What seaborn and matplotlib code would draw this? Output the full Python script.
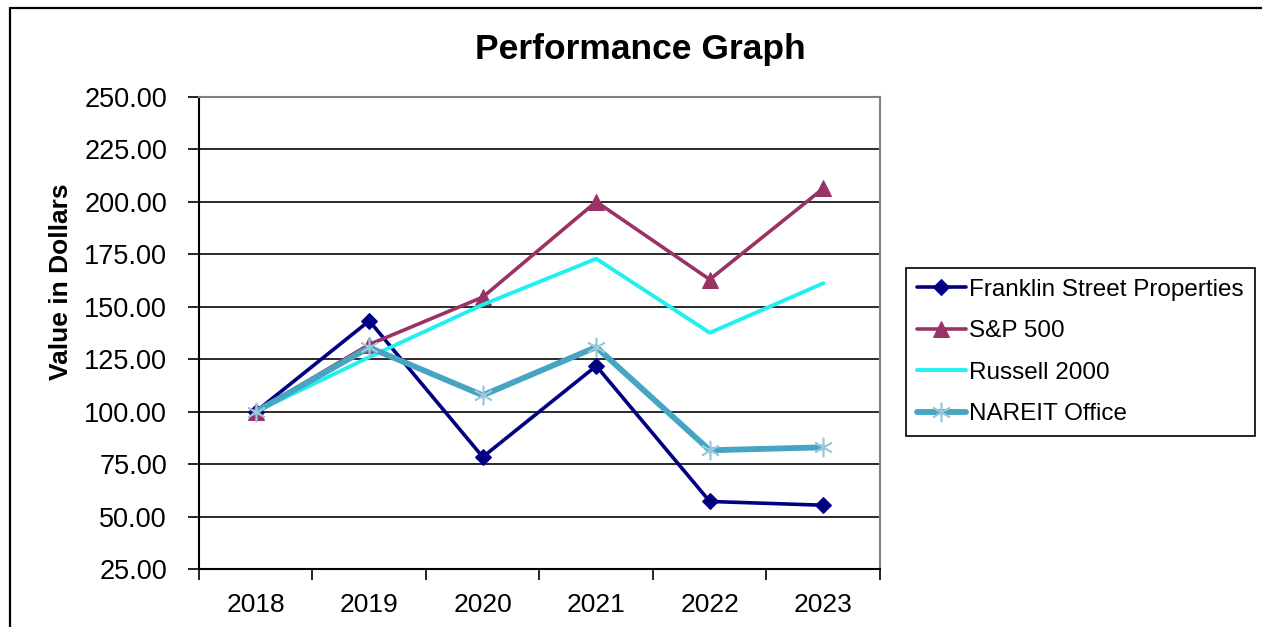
import matplotlib
matplotlib.use("Agg")
import matplotlib.pyplot as plt
from matplotlib.lines import Line2D
import numpy as np
import pandas as pd
import seaborn as sns

years = [2018, 2019, 2020, 2021, 2022, 2023]
franklin = [100.0, 143.3, 78.4, 121.8, 57.2, 55.4]
sp500 = [100.0, 132.0, 154.6, 200.1, 163.0, 206.4]
russell = [100.0, 126.0, 151.0, 172.9, 137.6, 161.2]
nareit = [100.0, 130.6, 107.8, 130.8, 81.6, 83.0]
series_names = ["Franklin Street Properties", "S&P 500", "Russell 2000", "NAREIT Office"]
y_ticks = [25, 50, 75, 100, 125, 150, 175, 200, 225, 250]

sns.set_theme(style="white")
plt.rcParams["font.family"] = ["Liberation Sans", "DejaVu Sans"]
plt.rcParams["text.color"] = "#000000"
plt.rcParams["xtick.color"] = "#000000"
plt.rcParams["ytick.color"] = "#000000"
plt.rcParams["xtick.labelcolor"] = "#000000"
plt.rcParams["ytick.labelcolor"] = "#000000"

W, H = 1262, 627
fig = plt.figure(figsize=(W / 100, H / 100), dpi=100)
fig.patch.set_facecolor("white")
ax = fig.add_axes([199 / W, 1 - 569 / H, (880 - 199) / W, (569 - 97) / H])
ax.set_facecolor("white")

ax.set_axisbelow(True)
ax.yaxis.grid(True, color="#1a1a1a", linewidth=1.3)
ax.xaxis.grid(False)

styles = [
    dict(color="#000080", linewidth=2.6, marker="D", markersize=8.5,
         markerfacecolor="#000080", markeredgecolor="#000080"),
    dict(color="#993366", linewidth=2.6, marker="^", markersize=11,
         markerfacecolor="#993366", markeredgecolor="#993366"),
    dict(color="#22F0F0", linewidth=2.8),
    dict(color="#45A5C2", linewidth=4.2, marker=(6, 2, 0), markersize=14,
         markeredgecolor="#9CC8DC", markeredgewidth=1.2),
]
values = [franklin, sp500, russell, nareit]
for name, vals, st in zip(series_names, values, styles):
    df = pd.DataFrame({"Year": years, "Value": vals})
    sns.lineplot(data=df, x="Year", y="Value", ax=ax, label=name, **st)

ax.set_xlim(years[0] - 0.5, years[-1] + 0.5)
ax.set_ylim(25, 250)
ax.set_yticks(y_ticks)
ax.set_yticklabels([f"{v:.2f}" for v in y_ticks])
ax.set_xticks(years)
ax.set_xticklabels([str(y) for y in years])
ax.set_xticks([y - 0.5 for y in years] + [years[-1] + 0.5], minor=True)
ax.tick_params(axis="x", which="major", length=0, pad=17, labelsize=19,
               labelcolor="#000000")
ax.tick_params(axis="x", which="minor", length=8, width=1.2, direction="out",
               color="#000000", bottom=True)
ax.tick_params(axis="y", which="major", length=8, width=1.2, direction="out",
               pad=15, labelsize=19.5, color="#000000", labelcolor="#000000", left=True)
ax.set_xlabel("")
ax.set_ylabel("")

for side in ["left", "bottom"]:
    ax.spines[side].set_color("#000000")
    ax.spines[side].set_linewidth(1.5)
ax.spines["right"].set_color("#808080")
ax.spines["right"].set_linewidth(1.5)
ax.spines["top"].set_color("#808080")
ax.spines["top"].set_linewidth(1.5)

leg = ax.legend(loc="upper left", bbox_to_anchor=(906 / W, 1 - 268 / H),
                bbox_transform=fig.transFigure, fontsize=17.5, frameon=True,
                fancybox=False, edgecolor="#000000", framealpha=1,
                handlelength=2.0, handletextpad=0.15, labelspacing=0.8,
                borderpad=0.45, borderaxespad=0, labelcolor="#000000")
leg.get_frame().set_linewidth(1.2)

fig.text(640 / W, 1 - 59 / H, "Performance Graph", ha="center", va="baseline",
         fontsize=25.5, fontweight="bold", color="#000000")
fig.text(61 / W, 1 - 282 / H, "Value in Dollars", ha="center", va="center",
         rotation=90, fontsize=19, fontweight="bold", color="#000000")

# outer chart frame
fig.add_artist(Line2D([10 / W, 10 / W], [1 - 8 / H, 0], transform=fig.transFigure,
                      color="#000000", linewidth=1.6))
fig.add_artist(Line2D([10 / W, 1], [1 - 8 / H, 1 - 8 / H], transform=fig.transFigure,
                      color="#000000", linewidth=1.6))

fig.savefig("out.png", dpi=100, facecolor="white")
